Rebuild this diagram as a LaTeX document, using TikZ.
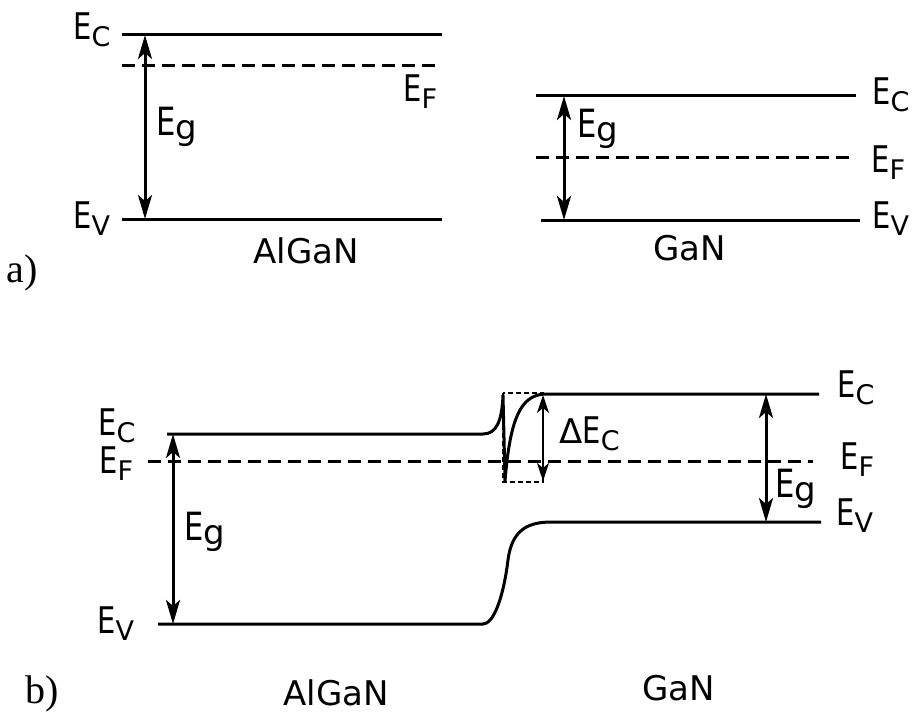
\documentclass[tikz,border=0pt]{standalone}
\usepackage{graphicx}
\usepackage{fontspec}
\setsansfont{DejaVu Sans}
\newfontfamily\partfont{Liberation Serif}
\usetikzlibrary{arrows.meta,positioning}
\newcommand\tallE{\scalebox{0.85}[1.08]{E}}
\newcommand\lvl[2][13.5]{\tallE\raisebox{-3.5pt}{\fontsize{#1}{#1}\selectfont #2}}
\newcommand\gapE{\tallE\raisebox{-2pt}{\fontsize{17}{17}\selectfont g}}
\tikzset{
  band/.style={line width=1.5pt},
  fermi/.style={line width=1.5pt, dash pattern=on 6.5pt off 3.5pt},
  gaparrow/.style={{Stealth[length=12pt,width=7pt,inset=3pt]}-{Stealth[length=12pt,width=7pt,inset=3pt]}, line width=1.5pt},
  smallarrow/.style={{Stealth[length=9pt,width=6pt,inset=2.5pt]}-{Stealth[length=9pt,width=6pt,inset=2.5pt]}, line width=1.2pt},
  lbl/.style={anchor=base west, inner sep=0pt, font=\sffamily\fontsize{17}{17}\selectfont},
  biglbl/.style={lbl, font=\sffamily\fontsize{18}{18}\selectfont},
  partlbl/.style={anchor=base west, inner sep=0pt, font=\partfont\fontsize{20}{20}\selectfont}
}

\begin{document}
\begin{tikzpicture}[x=0.5pt, y=-0.5pt]
\useasboundingbox (0,0) rectangle (914,711);

% a) AlGaN
\draw[band] (122,35) -- (442,35);
\draw[fermi] (122,66) -- (436,66);
\draw[band] (122,219) -- (442,219);
\coordinate (aAlTop) at (145,35);
\coordinate (aAlBot) at (145,219);
\draw[gaparrow] (aAlTop) -- (aAlBot);
\node[lbl] (aAlC) at (73,40) {\lvl{C}};
\node[lbl] (aAlV) at (73,228) {\lvl{V}};
\node[lbl] (aAlF) at (403,102) {\lvl{F}};
\node[biglbl] (aAlG) at (156,136) {\gapE};
\node[lbl] (aAlName) at (253,263) {AlGaN};

% a) GaN
\draw[band] (536,96) -- (856,96);
\draw[fermi] (536,158) -- (850,158);
\draw[band] (541,220) -- (860,220);
\coordinate (aGaTop) at (564,96);
\coordinate (aGaBot) at (564,220);
\draw[gaparrow] (aGaTop) -- (aGaBot);
\node[lbl] (aGaC) at (872,105) {\lvl{C}};
\node[lbl] (aGaF) at (871,173) {\lvl{F}};
\node[lbl] (aGaV) at (872,228) {\lvl{V}};
\node[biglbl] (aGaG) at (577,138) {\gapE};
\node[lbl] (aGaName) at (653,260) {GaN};
\node[partlbl] (partA) at (6,282) {a)};

% b) heterojunction
\draw[band] (167,434) -- (483,434) .. controls (497,434) and (502,420) .. (503,395)
  -- (505,481) .. controls (510,420) and (520,395) .. (545,394) -- (819,394);
\draw[fermi] (148,461) -- (813,461);
\draw[band] (158,624) -- (483,624) .. controls (493,624) and (503,600) .. (508,560)
  .. controls (512,528) and (530,522) .. (552,522) -- (821,522);
\draw[line width=0.6pt, dash pattern=on 2.5pt off 1.5pt] (503,393) rectangle (543,482);
\coordinate (bAlTop) at (173,434);
\coordinate (bAlBot) at (173,624);
\coordinate (bSpTop) at (543,395);
\coordinate (bSpBot) at (543,481);
\coordinate (bGaTop) at (766,394);
\coordinate (bGaBot) at (766,522);
\draw[gaparrow] (bAlTop) -- (bAlBot);
\draw[smallarrow] (bSpTop) -- (bSpBot);
\draw[gaparrow] (bGaTop) -- (bGaBot);
\node[lbl] (bAlC) at (98,435) {\lvl{C}};
\node[lbl] (bAlF) at (99,473) {\lvl{F}};
\node[lbl] (bAlV) at (97,633) {\lvl{V}};
\node[biglbl] (bAlG) at (184,540) {\gapE};
\node[lbl] (bDelta) at (559,443) {Δ\lvl{C}};
\node[lbl] (bGaC) at (837,397) {\lvl{C}};
\node[lbl] (bGaF) at (840,469) {\lvl{F}};
\node[lbl] (bGaV) at (836,525) {\lvl{V}};
\node[biglbl] (bGaG) at (775,497) {\gapE};
\node[lbl] (bAlName) at (283,705) {AlGaN};
\node[lbl] (bGaName) at (642,700) {GaN};
\node[partlbl] (partB) at (25,703) {b)};
\end{tikzpicture}
\end{document}
